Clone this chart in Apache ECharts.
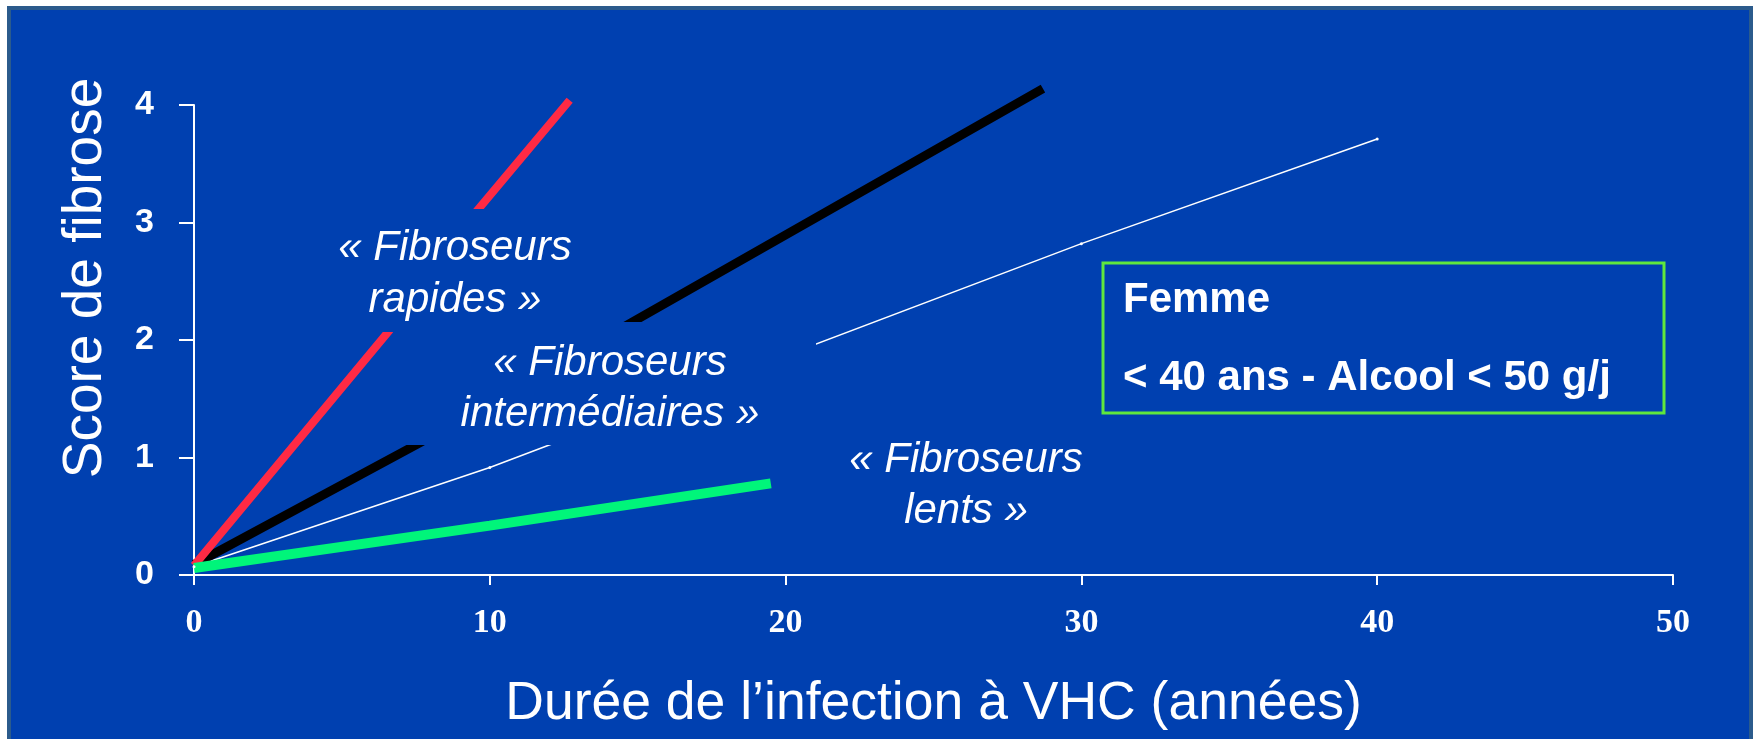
<!DOCTYPE html>
<html>
<head>
<meta charset="utf-8">
<title>Score de fibrose</title>
<script src="https://cdn.jsdelivr.net/npm/echarts@6/dist/echarts.min.js"></script>
<style>
  html, body { margin: 0; padding: 0; background: #fff; }
  #frame {
    position: absolute; left: 7px; top: 6px;
    width: 1738px; height: 740px;
    background: #0040B0;
    border: 4px solid #2B5B8C; border-bottom: none;
  }
  #chart { position: absolute; left: 0; top: 0; width: 1754px; height: 739px; }
</style>
</head>
<body>
<div id="frame"></div>
<div id="chart"></div>
<script>
  // values: [durée (années), score de fibrose]
  var rapides        = [[0, 0.08], [6.6, 2.08], [9.5, 3.08], [12.7, 4.04]];
  var intermediaires = [[0, 0.09], [7.6, 1.12], [14.8, 2.15], [28.7, 4.14]];
  var moyenne        = [[0, 0.07], [10, 0.915], [30, 2.82], [40, 3.71]];
  var lents          = [[0, 0.06], [10, 0.42], [19.5, 0.78]];

  var xName = 'Durée de l’infection à VHC (années)';
  var yName = 'Score de fibrose';
  var boxLines = ['Femme', '< 40 ans - Alcool < 50 g/j'];

  var BG    = '#0040B0',
      SANS  = '"Liberation Sans", Arial, sans-serif',
      SERIF = '"Liberation Serif", "Times New Roman", serif';

  var chart = echarts.init(document.getElementById('chart'));

  function lineSeries(data, color, width) {
    return {
      type: 'line',
      data: data,
      symbol: 'none',
      clip: false,
      lineStyle: { color: color, width: width, cap: 'butt' },
      silent: true
    };
  }

  function label(x, y, text, lh) {
    return {
      type: 'text', x: x, y: y, z: 101,
      style: {
        text: text, fill: '#fff',
        fontSize: 42, fontStyle: 'italic', fontFamily: SANS,
        lineHeight: lh, align: 'center', verticalAlign: 'middle'
      }
    };
  }

  function cover(x, y, w, h) {
    return {
      type: 'rect', x: x, y: y, z: 100,
      shape: { x: 0, y: 0, width: w, height: h },
      style: { fill: BG }
    };
  }

  var option = {
    animation: false,
    backgroundColor: 'transparent',
    grid: {
      left: 194, right: 81, top: 105, bottom: 164,
      containLabel: false, outerBoundsMode: 'none'
    },
    xAxis: {
      type: 'value', min: 0, max: 50, interval: 10,
      name: xName, nameLocation: 'middle', nameGap: 102,
      nameTextStyle: { color: '#fff', fontSize: 53.5, fontFamily: SANS },
      axisLine: { lineStyle: { color: '#fff', width: 2 } },
      axisTick: { length: 10, lineStyle: { color: '#fff', width: 2 } },
      axisLabel: { color: '#fff', fontSize: 34, fontWeight: 'bold', fontFamily: SERIF, margin: 31 },
      splitLine: { show: false }
    },
    yAxis: {
      type: 'value', min: 0, max: 4, interval: 1,
      axisLine: { show: true, lineStyle: { color: '#fff', width: 2 } },
      axisTick: { show: true, length: 15, lineStyle: { color: '#fff', width: 2 } },
      axisLabel: { color: '#fff', fontSize: 34, fontWeight: 'bold', fontFamily: SANS, margin: 40 },
      splitLine: { show: false }
    },
    series: [
      {
        type: 'line',
        data: moyenne,
        symbol: 'circle', symbolSize: 3,
        clip: false,
        itemStyle: { color: '#fff' },
        lineStyle: { color: '#fff', width: 1.5 },
        silent: true
      },
      lineSeries(intermediaires, '#000000', 9),
      lineSeries(rapides, '#FF2A44', 8),
      lineSeries(lents, '#00F57A', 10)
    ],
    graphic: [
      {
        type: 'text', x: 86, y: 278, rotation: Math.PI / 2, z: 101,
        style: {
          text: yName, fill: '#fff', fontSize: 55, fontFamily: SANS,
          align: 'center', verticalAlign: 'middle'
        }
      },
      cover(330, 209, 255, 123),
      label(455, 274, '« Fibroseurs\nrapides »', 52),
      cover(406, 322, 410, 123),
      label(610, 389, '« Fibroseurs\nintermédiaires »', 51),
      label(966, 486, '« Fibroseurs\nlents »', 51),
      {
        type: 'rect', x: 1103, y: 263, z: 100,
        shape: { x: 0, y: 0, width: 561, height: 150 },
        style: { fill: 'none', stroke: '#5FE83C', lineWidth: 3 }
      },
      {
        type: 'text', x: 1123, y: 300, z: 101,
        style: { text: boxLines[0], fill: '#fff', fontSize: 42, fontWeight: 'bold', fontFamily: SANS, align: 'left', verticalAlign: 'middle' }
      },
      {
        type: 'text', x: 1123, y: 378, z: 101,
        style: { text: boxLines[1], fill: '#fff', fontSize: 42, fontWeight: 'bold', fontFamily: SANS, align: 'left', verticalAlign: 'middle' }
      }
    ]
  };

  chart.setOption(option);
</script>
</body>
</html>
